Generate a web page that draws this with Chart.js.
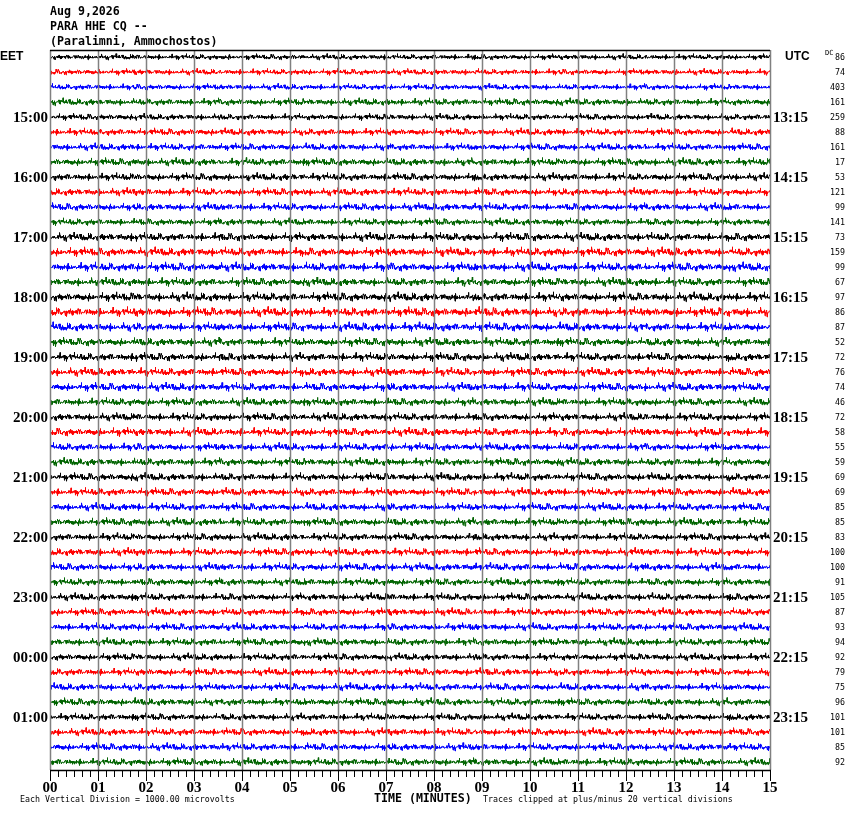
<!DOCTYPE html>
<html>
<head>
<meta charset="utf-8">
<script src="https://cdn.jsdelivr.net/npm/chart.js@4"></script>
<style>
html,body{margin:0;padding:0;background:#fff;}
canvas{display:block;}
</style>
</head>
<body>
<canvas id="c" width="850" height="814"></canvas>
<script>
// ---- data ----
const titleLines = ["Aug 9,2026", "PARA HHE CQ --", "(Paralimni, Ammochostos)"];
const minuteLabels = ["00","01","02","03","04","05","06","07","08","09","10","11","12","13","14","15"];
const eetLabels = ["15:00","16:00","17:00","18:00","19:00","20:00","21:00","22:00","23:00","00:00","01:00"];
const utcLabels = ["13:15","14:15","15:15","16:15","17:15","18:15","19:15","20:15","21:15","22:15","23:15"];
const dcValues = [86,74,403,161,259,88,161,17,53,121,99,141,73,159,99,67,97,86,87,52,72,76,74,46,
                  72,58,55,59,69,69,85,85,83,100,100,91,105,87,93,94,92,79,75,96,101,101,85,92];
const traceColors = ["#000000","#ff0000","#0000ff","#006400"];
// per-trace noise amplitude (pixels per noise unit)
const traceAmps = [0.34,0.36,0.36,0.42, 0.38,0.42,0.42,0.45, 0.45,0.45,0.45,0.42,
                   0.5,0.52,0.52,0.5, 0.52,0.55,0.52,0.5, 0.5,0.5,0.5,0.46,
                   0.46,0.5,0.46,0.46, 0.46,0.46,0.46,0.46, 0.44,0.46,0.46,0.44,
                   0.44,0.44,0.44,0.44, 0.42,0.44,0.44,0.44, 0.42,0.44,0.44,0.44];
// hand-typed ground-noise wiggle (arbitrary units)
const wiggle = [3,-2,1,-4,2,0,-3,5,-1,2,-6,1,3,-2,0,4,-3,1,-1,2,-5,3,0,-2,6,-1,-3,2,1,-4,0,3,-2,8,-5,1,2,-3,0,1,
  -2,4,-1,-4,3,0,2,-7,4,-1,1,-2,3,-3,0,5,-2,1,-1,-3,2,4,-4,0,1,-9,6,-2,3,-1,0,2,-3,1,4,-2,-1,3,-5,2,
  0,-1,1,-4,7,-3,2,0,-2,3,-1,1,-3,2,5,-6,1,0,-2,3,-1,2,-4,1,0,3,-2,-1,4,-3,2,-10,8,-2,1,0,-1,3,-4,2,
  1,-2,0,4,-3,1,-1,2,-2,6,-4,0,3,-1,-2,1,2,-5,3,-1,0,4,-2,1,-3,2,0,-1,5,-4,3,-2,1,0,-3,2,7,-8,2,1,
  -1,3,-2,0,-4,4,-1,2,-3,1,0,-2,3,1,-5,2,-1,4,-3,0,2,-1,-2,5,-3,1,0,-1,2,-6,4,-2,3,0,-1,1,-3,2,9,-7,
  1,-2,0,3,-1,2,-4,1,-1,3,-2,0,4,-5,2,1,-1,-2,3,0,-3,1,2,-1,6,-4,0,1,-2,3,-1,-3,2,0,4,-2,1,-6,3,-1,
  0,2,-2,1,-3,5,-1,0,2,-4,1,3,-2,0,-1];

const ROWS = 48, ROWPX = 15, SAMPLES = 2160;
const L = wiggle.length;
const datasets = [];
for (let k = 0; k < ROWS; k++) {
  const pts = [];
  for (let j = 0; j <= SAMPLES; j++) {
    const n = wiggle[(j * 7 + k * 31 + Math.floor(j / L) * 53) % L];
    pts.push({x: j * 15 / SAMPLES, y: k + traceAmps[k] * n / ROWPX});
  }
  datasets.push({data: pts, borderColor: traceColors[k % 4], borderWidth: 1,
                 pointRadius: 0, tension: 0, fill: false});
}

const decor = {
  id: 'decor',
  afterDatasetsDraw(chart) {
    const ctx = chart.ctx, xs = chart.scales.x, ys = chart.scales.y;
    const top = chart.chartArea.top, bot = chart.chartArea.bottom;
    ctx.save();
    // vertical minute grid
    ctx.strokeStyle = '#808080'; ctx.lineWidth = 1.5;
    for (let m = 0; m < minuteLabels.length; m++) {
      const px = Math.round(xs.getPixelForValue(m)) + 0.5;
      ctx.beginPath(); ctx.moveTo(px, top); ctx.lineTo(px, bot); ctx.stroke();
    }
    // top + bottom border
    ctx.strokeStyle = '#000'; ctx.lineWidth = 1.5;
    ctx.beginPath(); ctx.moveTo(xs.left, top + 0.5); ctx.lineTo(xs.right, top + 0.5); ctx.stroke();
    ctx.beginPath(); ctx.moveTo(xs.left, bot + 0.5); ctx.lineTo(xs.right + 1, bot + 0.5); ctx.stroke();
    // ticks every 10 s
    ctx.lineWidth = 1;
    for (let t = 0; t <= 90; t++) {
      const px = Math.round(xs.getPixelForValue(t / 6)) + 0.5;
      const len = (t % 6 === 0) ? 11 : 7;
      ctx.beginPath(); ctx.moveTo(px, bot); ctx.lineTo(px, bot + len); ctx.stroke();
    }
    // minute labels
    ctx.fillStyle = '#000';
    ctx.font = "bold 15px 'Liberation Serif'";
    ctx.textAlign = 'center'; ctx.textBaseline = 'middle';
    minuteLabels.forEach((s, m) => ctx.fillText(s, xs.getPixelForValue(m), bot + 18));
    // hour labels
    ctx.font = "bold 15px 'Liberation Serif'";
    eetLabels.forEach((s, i) => {
      const py = ys.getPixelForValue((i + 1) * 4);
      ctx.textAlign = 'right'; ctx.fillText(s, xs.left - 2, py + 1);
      ctx.textAlign = 'left'; ctx.fillText(utcLabels[i], xs.right + 3, py + 1);
    });
    ctx.font = "bold 12px 'Liberation Sans'";
    ctx.textAlign = 'left';
    ctx.fillText("EET", 0, ys.getPixelForValue(0));
    ctx.fillText("UTC", 785, ys.getPixelForValue(0));
    // DC values
    ctx.font = "8.3px 'DejaVu Sans Mono'";
    ctx.textAlign = 'right';
    dcValues.forEach((v, k) => ctx.fillText(String(v), 845, ys.getPixelForValue(k) + 1));
    ctx.font = "7px 'DejaVu Sans Mono'";
    ctx.textAlign = 'left';
    ctx.fillText("DC", 825, ys.getPixelForValue(0) - 4);
    // title
    ctx.font = "bold 11.6px 'DejaVu Sans Mono'";
    ctx.textAlign = 'left';
    titleLines.forEach((s, i) => ctx.fillText(s, 50, 12 + i * 15));
    // footer
    ctx.font = "8.3px 'DejaVu Sans Mono'";
    ctx.fillText("Each Vertical Division = 1000.00 microvolts", 20, 800);
    ctx.fillText("Traces clipped at plus/minus 20 vertical divisions", 483, 800);
    ctx.font = "bold 11.6px 'DejaVu Sans Mono'";
    ctx.fillText("TIME (MINUTES)", 374, 799);
    ctx.restore();
  }
};

new Chart(document.getElementById('c'), {
  type: 'line',
  data: {datasets},
  options: {
    responsive: false, animation: false, parsing: false, normalized: true,
    devicePixelRatio: 1,
    layout: {padding: {left: 50, right: 80, top: 50, bottom: 44}},
    plugins: {legend: {display: false}, tooltip: {enabled: false}},
    events: [],
    scales: {
      x: {type: 'linear', min: 0, max: 15, display: false},
      y: {type: 'linear', min: -7 / 15, max: 713 / 15, reverse: true, display: false}
    }
  },
  plugins: [decor]
});
</script>
</body>
</html>
